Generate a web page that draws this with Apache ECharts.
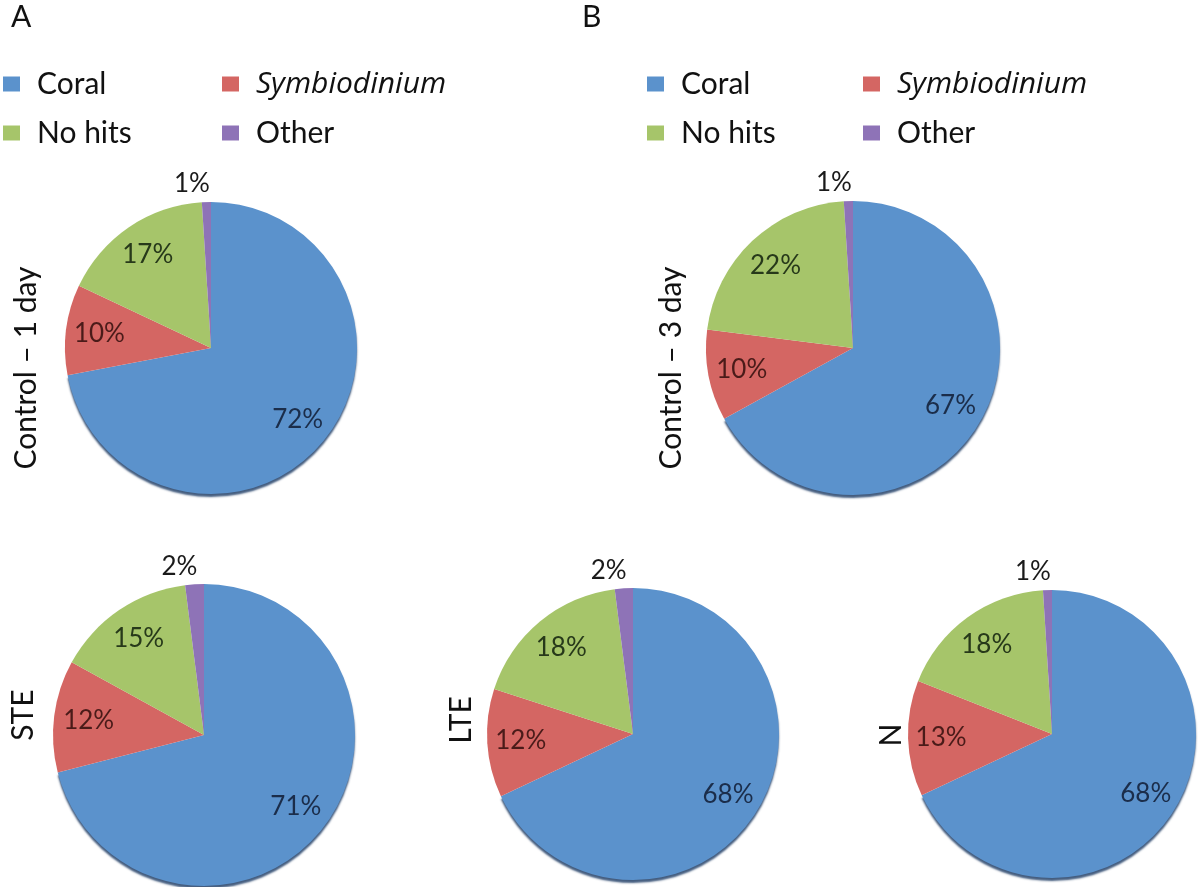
<!DOCTYPE html>
<html><head><meta charset="utf-8">
<script src="https://cdn.jsdelivr.net/npm/echarts@6/dist/echarts.min.js"></script>
<style>html,body{margin:0;padding:0;background:#fff}#c{width:1200px;height:887px}</style>
</head><body><div id="c"></div>
<script>
const categories = ['Coral', 'Symbiodinium', 'No hits', 'Other'];
const control1Day = [72, 10, 17, 1];
const control3Day = [67, 10, 22, 1];
const steValues = [71, 12, 15, 2];
const lteValues = [68, 12, 18, 2];
const nValues = [68, 13, 18, 1];
const pieNames = ['Control – 1 day', 'Control – 3 day', 'STE', 'LTE', 'N'];
const panelLetters = ['A', 'B'];

const colors = ['#5B92CC', '#D46663', '#A6C56A', '#8E73B7'];
const labelColors = ['#1b2d4a', '#4a1b19', '#27391a', '#1a1a1a'];
const FONT = 'Lato';

const pies = [
  { vals: control1Day, c: [211, 348], r: 146, title: [26, 368] },
  { vals: control3Day, c: [853, 348], r: 147, title: [671, 368] },
  { vals: steValues, c: [204, 735], r: 151, title: [23, 715] },
  { vals: lteValues, c: [633, 734], r: 146, title: [461, 720] },
  { vals: nValues, c: [1052, 734], r: 144, title: [891, 735] }
];

const series = [];
pies.forEach((p, pi) => {
  const base = p.vals.map((v, i) => {
    const d = { name: categories[i], value: v, itemStyle: { color: colors[i] } };
    if (i === 0) {
      d.itemStyle.shadowColor = 'rgba(35,65,105,0.85)';
      d.itemStyle.shadowOffsetY = 3;
      d.itemStyle.shadowBlur = 2;
    }
    if (i === 3) {
      d.label = { show: true, position: 'outside', formatter: '{c}%', color: labelColors[3],
        fontSize: 26, fontFamily: FONT, distanceToLabelLine: -4 };
      d.labelLine = { show: false, length: 18, length2: 0 };
    }
    return d;
  });
  series.push({
    type: 'pie', center: p.c, radius: p.r, startAngle: 90, clockwise: true,
    avoidLabelOverlap: false, silent: true, animation: false,
    label: { show: false }, labelLine: { show: false },
    itemStyle: { borderWidth: 0 },
    data: base
  });
  const over = p.vals.map((v, i) => ({
    name: categories[i], value: v,
    itemStyle: { color: 'rgba(0,0,0,0)' },
    label: { show: i !== 3, position: 'inside', formatter: '{c}%', color: labelColors[i],
      fontSize: 26, fontFamily: FONT }
  }));
  series.push({
    type: 'pie', center: p.c, radius: [p.r * 0.5, p.r], startAngle: 90, clockwise: true,
    avoidLabelOverlap: false, silent: true, animation: false,
    labelLine: { show: false },
    itemStyle: { borderWidth: 0 },
    data: over
  });
});

const legendText = {
  fontSize: 30, fontFamily: FONT, color: '#111', lineHeight: 34, padding: [0, 0, 0, 12],
  rich: { i: { fontStyle: 'italic', fontSize: 30, fontFamily: 'Open Sans', color: '#111', lineHeight: 34 } }
};
function mkLegend(left, names) {
  return {
    orient: 'vertical', left: left, top: 67, itemGap: 15, padding: 0,
    icon: 'rect', itemWidth: 17, itemHeight: 15,
    selectedMode: false, data: names,
    formatter: n => n === 'Symbiodinium' ? '{i|Symbiodinium}' : n,
    textStyle: legendText
  };
}

const graphics = [
  { type: 'text', left: 11, top: 2, style: { text: panelLetters[0], fontSize: 30, fontFamily: FONT, fill: '#111' } },
  { type: 'text', left: 582, top: 2, style: { text: panelLetters[1], fontSize: 30, fontFamily: FONT, fill: '#111' } }
];
pies.forEach((p, i) => {
  graphics.push({
    type: 'text', x: p.title[0], y: p.title[1], rotation: Math.PI / 2,
    style: { text: pieNames[i], fontSize: 30, fontFamily: FONT, fill: '#111',
      align: 'center', verticalAlign: 'middle' }
  });
});

const chart = echarts.init(document.getElementById('c'));
chart.setOption({
  backgroundColor: '#fff',
  animation: false,
  legend: [
    mkLegend(3, ['Coral', 'No hits']),
    mkLegend(222, ['Symbiodinium', 'Other']),
    mkLegend(647, ['Coral', 'No hits']),
    mkLegend(863, ['Symbiodinium', 'Other'])
  ],
  graphic: graphics,
  series: series
});
</script></body></html>
